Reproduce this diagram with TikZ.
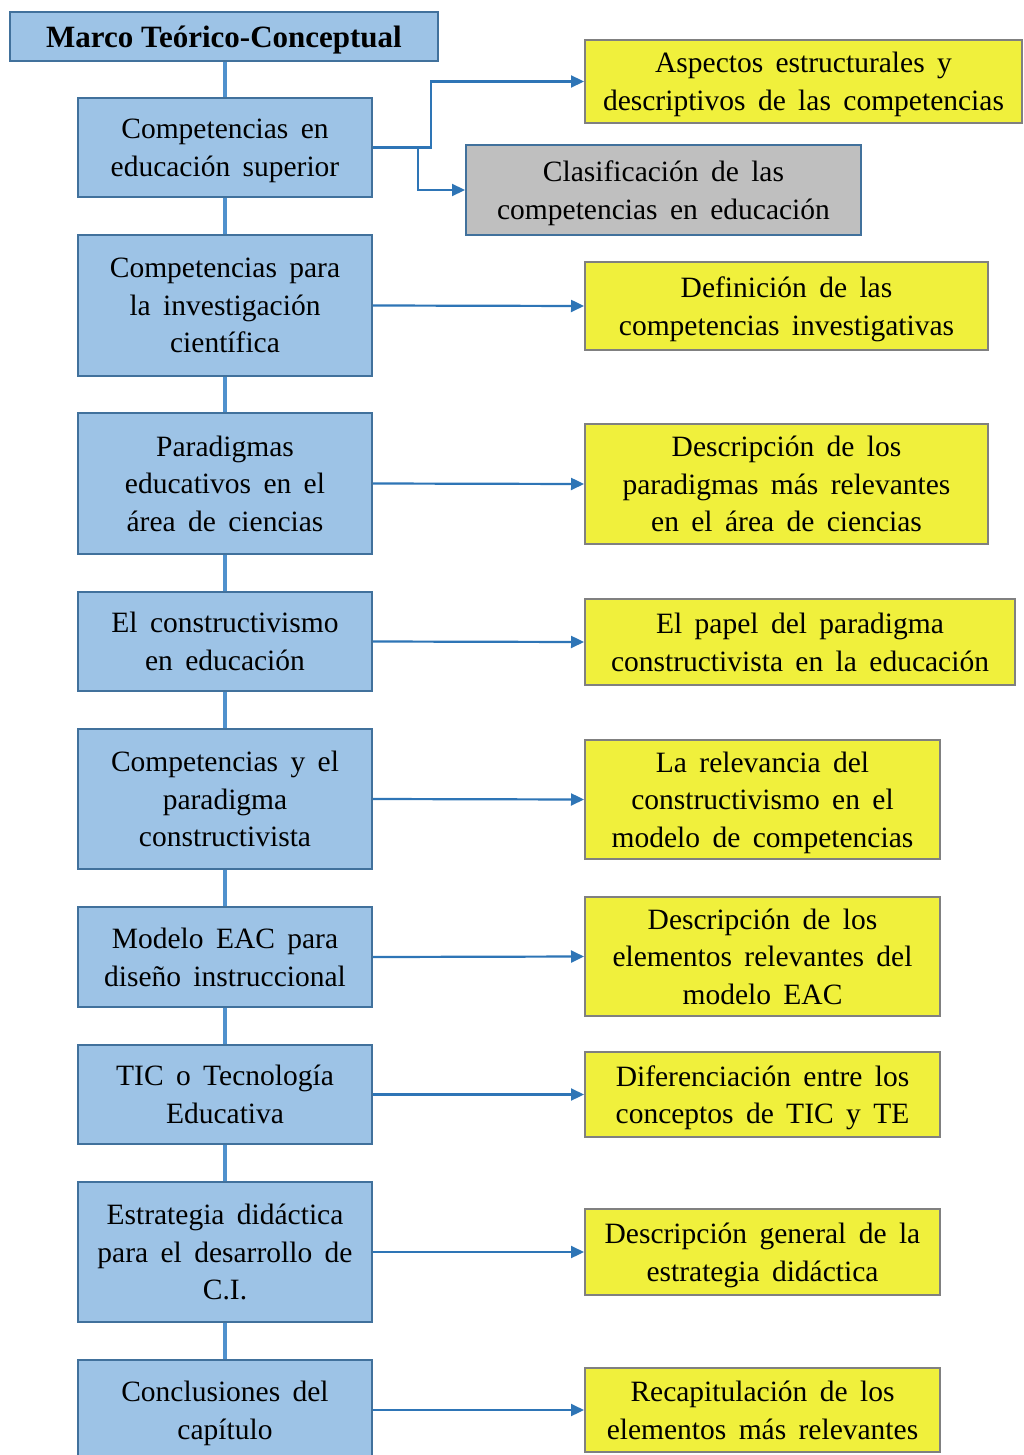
\documentclass[tikz,border=0pt]{standalone}
\usepackage{fontspec}
\setmainfont{Liberation Serif}
\usetikzlibrary{arrows.meta}
\definecolor{lbfill}{RGB}{157,195,230}
\definecolor{lbdraw}{RGB}{65,113,156}
\definecolor{yfill}{RGB}{240,240,60}
\definecolor{ydraw}{RGB}{128,128,128}
\definecolor{gfill}{RGB}{191,191,191}
\definecolor{conn}{RGB}{46,117,182}
\definecolor{spine}{RGB}{80,145,205}
\newcommand{\boxfont}{\fontsize{29.5}{37.7}\selectfont\spaceskip=0.42em plus 0.1em\relax}
\tikzset{
  txt/.style={font=\boxfont, align=center, inner sep=0pt, text depth=0pt},
  lbox/.style={txt, draw=lbdraw, fill=lbfill, line width=2pt, minimum width=294pt},
  ybox/.style={txt, draw=ydraw, fill=yfill, line width=2pt},
  gbox/.style={txt, draw=lbdraw, fill=gfill, line width=2pt},
  arr/.style={draw=conn, line width=2.2pt, -{Triangle[length=13pt,width=12pt]}},
  spineline/.style={draw=spine, line width=4pt}
}
\begin{document}
\begin{tikzpicture}[x=1pt,y=-1pt]
\useasboundingbox (0,0) rectangle (1024,1455);
% title
\node[txt, draw=lbdraw, fill=lbfill, line width=2pt, minimum width=428pt, minimum height=49pt, font=\fontsize{31}{37.5}\selectfont\bfseries] (t) at (224,36.5) {Marco Teórico-Conceptual};
% left column
\node[lbox, minimum height=99pt]  (b1) at (225,147.5) {Competencias en\\educación superior};
\node[lbox, minimum height=141pt] (b2) at (225,305.5) {Competencias para\\la investigación\\científica};
\node[lbox, minimum height=141pt] (b3) at (225,483.5) {Paradigmas\\educativos en el\\área de ciencias};
\node[lbox, minimum height=99pt]  (b4) at (225,641.5) {El constructivismo\\en educación};
\node[lbox, minimum height=140pt] (b5) at (225,799) {Competencias y el\\paradigma\\constructivista};
\node[lbox, minimum height=100pt] (b6) at (225,957) {Modelo EAC para\\diseño instruccional};
\node[lbox, minimum height=99pt]  (b7) at (225,1094.5) {TIC o Tecnología\\Educativa};
\node[lbox, minimum height=140pt] (b8) at (225,1252) {Estrategia didáctica\\para el desarrollo de\\C.I.};
\node[lbox, minimum height=100pt] (b9) at (225,1410) {Conclusiones del\\capítulo};
% right column
\node[ybox, minimum width=437pt, minimum height=83pt] (ra) at (803.5,81.5) {Aspectos estructurales y\\descriptivos de las competencias};
\node[gbox, minimum width=395pt, minimum height=90pt] (rb) at (663.5,190) {Clasificación de las\\competencias en educación};
\node[ybox, minimum width=403pt, minimum height=88pt] (rc) at (786.5,306) {Definición de las\\competencias investigativas};
\node[ybox, minimum width=403pt, minimum height=120pt] (rd) at (786.5,484) {Descripción de los\\paradigmas más relevantes\\en el área de ciencias};
\node[ybox, minimum width=430pt, minimum height=86pt] (re) at (800,642) {El papel del paradigma\\constructivista en la educación};
\node[ybox, minimum width=355pt, minimum height=119pt] (rf) at (762.5,799.5) {La relevancia del\\constructivismo en el\\modelo de competencias};
\node[ybox, minimum width=355pt, minimum height=119pt] (rg) at (762.5,956.5) {Descripción de los\\elementos relevantes del\\modelo EAC};
\node[ybox, minimum width=355pt, minimum height=85pt] (rh) at (762.5,1094.5) {Diferenciación entre los\\conceptos de TIC y TE};
\node[ybox, minimum width=355pt, minimum height=86pt] (ri) at (762.5,1252) {Descripción general de la\\estrategia didáctica};
\node[ybox, minimum width=355pt, minimum height=84pt] (rj) at (762.5,1410) {Recapitulación de los\\elementos más relevantes};
% spine
\draw[spineline] (t.south -| b1.north) -- (b1.north);
\draw[spineline] (b1.south) -- (b2.north);
\draw[spineline] (b2.south) -- (b3.north);
\draw[spineline] (b3.south) -- (b4.north);
\draw[spineline] (b4.south) -- (b5.north);
\draw[spineline] (b5.south) -- (b6.north);
\draw[spineline] (b6.south) -- (b7.north);
\draw[spineline] (b7.south) -- (b8.north);
\draw[spineline] (b8.south) -- (b9.north);
% connectors
\coordinate (k1) at (431,0);
\coordinate (k2) at (418,0);
\draw[arr] (b1.east) -- (b1.east -| k1) |- (ra.west);
\draw[arr] (b1.east) -- (b1.east -| k2) |- (rb.west);
\draw[arr] (b2.east) -- (rc.west);
\draw[arr] (b3.east) -- (rd.west);
\draw[arr] (b4.east) -- (re.west);
\draw[arr] (b5.east) -- (rf.west);
\draw[arr] (b6.east) -- (rg.west);
\draw[arr] (b7.east) -- (rh.west);
\draw[arr] (b8.east) -- (ri.west);
\draw[arr] (b9.east) -- (rj.west);
\end{tikzpicture}
\end{document}
